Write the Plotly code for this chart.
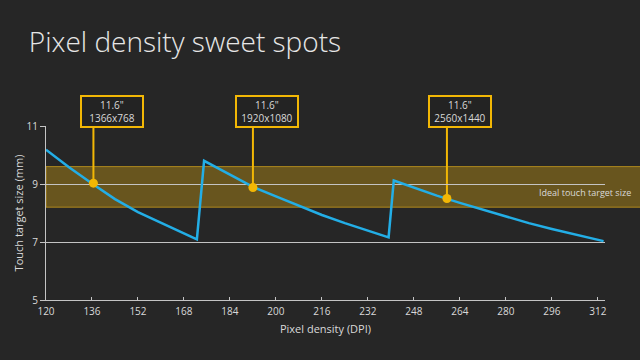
import plotly.graph_objects as go

# Touch target size (mm) vs pixel density (DPI), three scaling plateaus
dpi_1 = [120, 128, 136, 144, 152, 160, 168, 172.5]
size_1 = [10.18, 9.58, 9.02, 8.48, 8.03, 7.66, 7.30, 7.09]
dpi_2 = [175, 184, 192, 200, 208, 216, 224, 232, 239.2]
size_2 = [9.80, 9.32, 8.90, 8.57, 8.24, 7.93, 7.65, 7.39, 7.16]
dpi_3 = [241, 248, 256, 264, 272, 280, 288, 296, 304, 314]
size_3 = [9.12, 8.87, 8.60, 8.35, 8.11, 7.87, 7.65, 7.45, 7.26, 7.03]

# Highlighted devices
spot_dpi = [136.5, 192, 259.5]
spot_size = [9.03, 8.88, 8.50]
spot_screen = ['11.6"', '11.6"', '11.6"']
spot_res = ["1366x768", "1920x1080", "2560x1440"]

# Ideal band
band_low, band_high = 8.2, 9.6
band_label = "Ideal touch target size"

x_ticks = list(range(120, 313, 16))
y_ticks = [5, 7, 9, 11]

BG = "#262626"
GOLD = "#f2b705"
CYAN = "#23aee6"
GRID = "#c4c4c4"
TXT = "#d9d9d9"
FONT = "Open Sans, Noto Sans, sans-serif"

fig = go.Figure()
fig.add_trace(go.Scatter(
    x=dpi_1 + dpi_2 + dpi_3, y=size_1 + size_2 + size_3,
    mode="lines", line=dict(color=CYAN, width=2.5), hoverinfo="skip"))

fig.add_trace(go.Scatter(
    x=spot_dpi, y=spot_size, mode="markers",
    marker=dict(color=GOLD, size=9), hoverinfo="skip"))

shapes = [dict(type="rect", xref="paper", yref="y", x0=0, x1=1.07,
               y0=band_low, y1=band_high, fillcolor="rgba(190,145,20,0.44)",
               line=dict(color="rgba(205,160,30,0.75)", width=1), layer="below")]
annotations = []
xshifts = [19, 14, 13]
for d, s, scr, res, xs in zip(spot_dpi, spot_size, spot_screen, spot_res, xshifts):
    shapes.append(dict(type="line", xref="x", yref="y", x0=d, x1=d, y0=s, y1=11,
                       line=dict(color=GOLD, width=2), layer="below"))
    shapes.append(dict(type="line", xref="x", yref="paper", x0=d, x1=d, y0=1, y1=1.09,
                       line=dict(color=GOLD, width=2), layer="below"))
    annotations.append(dict(
        x=d, y=1.179, xref="x", yref="paper", xshift=xs, showarrow=False,
        text=f"{scr}<br>{res}", align="center",
        font=dict(family=FONT, size=10, color=TXT),
        bgcolor="#232323", bordercolor=GOLD, borderwidth=2, borderpad=2,
        width=56, height=25))

annotations.append(dict(
    x=1.0495, y=8.69, xref="paper", yref="y", xanchor="right", showarrow=False,
    text=band_label, font=dict(family=FONT, size=9, color=TXT)))

fig.update_layout(
    width=640, height=360,
    margin=dict(l=46, r=35, t=126, b=60, autoexpand=False),
    paper_bgcolor=BG, plot_bgcolor="rgba(0,0,0,0)",
    showlegend=False,
    font=dict(family=FONT, color=TXT, size=10),
    title=dict(text="Pixel density sweet spots", x=0.045, xanchor="left",
               xref="container", y=0.883, yref="container", yanchor="middle",
               font=dict(family=FONT, size=28, color="#e6e6e6", weight=300)),
    shapes=shapes, annotations=annotations,
    xaxis=dict(range=[120, 314.5], tickvals=x_ticks, showgrid=False,
               showline=True, linecolor=GRID, linewidth=1, automargin=False,
               ticks="inside", ticklen=3, tickcolor=GRID, ticklabelstandoff=2,
               tickfont=dict(size=10, color=TXT), zeroline=False,
               title=dict(text="Pixel density (DPI)", font=dict(size=11, color=TXT), standoff=8)),
    yaxis=dict(range=[5, 11], tickvals=y_ticks, showgrid=True, gridcolor=GRID,
               gridwidth=1, showline=True, linecolor=GRID, linewidth=1, automargin=False,
               ticks="outside", ticklen=5, tickcolor=GRID,
               tickfont=dict(size=10, color=TXT), zeroline=False,
               title=dict(text="Touch target size (mm)", font=dict(size=11, color=TXT), standoff=0)),
)

fig.write_html("out.html", config={"displayModeBar": False},
               post_script="document.body.style.margin='0';document.body.style.background='#262626';")
